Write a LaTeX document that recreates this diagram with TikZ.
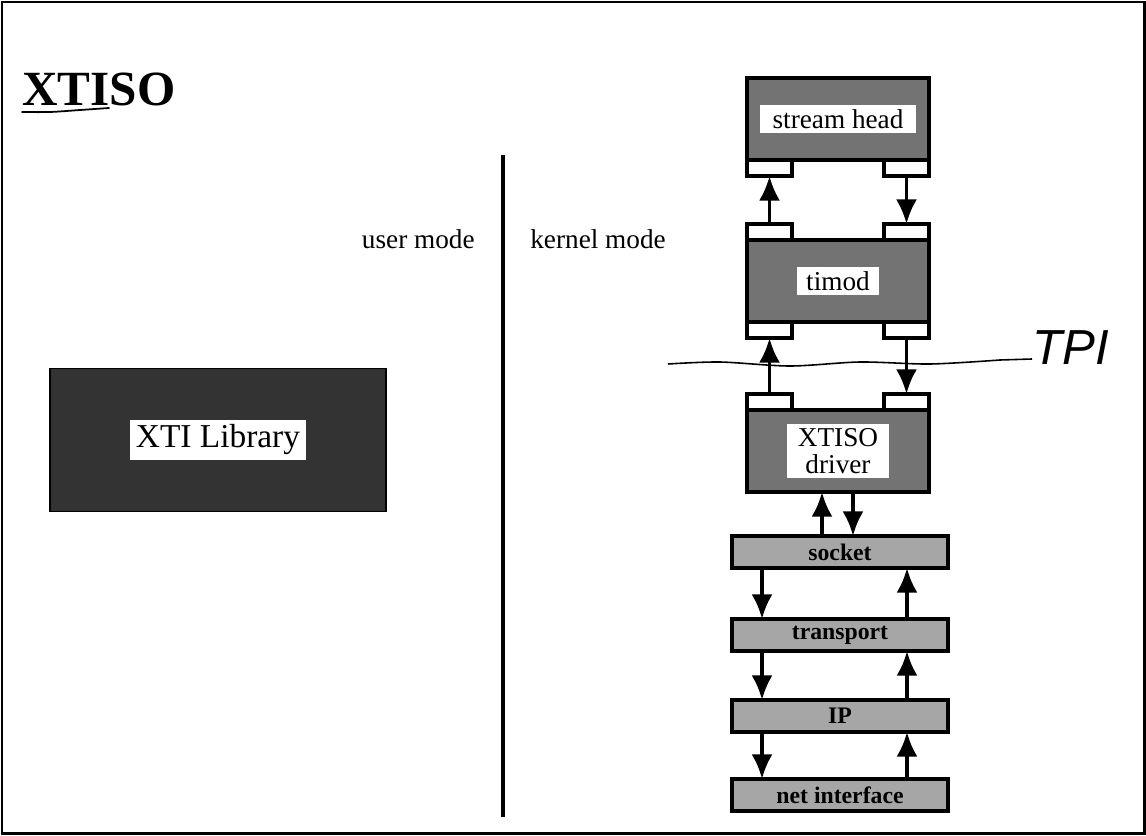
\documentclass[tikz,border=0pt]{standalone}
\usepackage{fontspec}
\setmainfont{Liberation Serif}
\newfontfamily\handfont{Liberation Sans}
\usetikzlibrary{arrows.meta,positioning}

\tikzset{
	module/.style={draw, line width=2pt, fill=black!55, outer sep=0pt,
		minimum width=3.64cm, minimum height=1.64cm},
	modlabel/.style={fill=white, inner xsep=5pt, inner ysep=2.5pt, align=center,
		font=\fontsize{15.5}{17}\selectfont},
	stub/.style={draw, line width=2pt, fill=white, outer sep=0pt,
		minimum width=0.9cm, minimum height=0.32cm},
	layer/.style={draw, line width=2pt, fill=black!35, outer sep=0pt,
		minimum width=4.32cm, minimum height=0.64cm, inner sep=0pt,
		font=\bfseries\fontsize{13.5}{15}\selectfont},
	arr/.style={line width=2.2pt, -{Latex[length=14pt,width=12pt]}},
	modetext/.style={font=\fontsize{15.5}{17}\selectfont}
}

\begin{document}
\begin{tikzpicture}[x=0.02cm, y=-0.02cm]

	\useasboundingbox (0,0) rectangle (1146,835);
	\draw[line width=1.7pt] (2,2) rectangle (1144,833);

	% Title
	\node[anchor=base west, inner sep=0pt, font=\bfseries\fontsize{28}{30}\selectfont] (title) at (22,105) {XTISO};
	\draw[line width=1pt, line cap=round] plot[smooth] coordinates {(22,112) (50,112) (80,110) (109,108)};

	% Divider between user and kernel mode
	\draw[line width=2.3pt] (503,155) -- (503,817);
	\node[modetext, anchor=base east, inner sep=0pt] (user) at (475,248) {user mode};
	\node[modetext, anchor=base west, inner sep=0pt] (kernel) at (530,248) {kernel mode};

	% XTI Library
	\node[draw, line width=1pt, fill=black!80, minimum width=6.72cm, minimum height=2.86cm] (lib) at (218,440) {};
	\node[fill=white, inner xsep=3.5pt, inner ysep=3pt, font=\fontsize{19}{21}\selectfont] (liblab) at (lib) {XTI Library};

	% Stream modules
	\node[module] (sh) at (838,119) {};
	\node[modlabel, inner xsep=7pt] (shlab) at (sh) {stream head};
	\node[module] (tm) at (838,281) {};
	\node[modlabel] (tmlab) at (tm) {timod};
	\node[module] (drv) at (838,451) {};
	\node[modlabel, inner xsep=6pt] (drvlab) at (drv) {XTISO\\[-2pt]driver};

	% Queue stubs
	\node[stub, anchor=north west] (shBL) at (sh.south west) {};
	\node[stub, anchor=north east] (shBR) at (sh.south east) {};
	\node[stub, anchor=south west] (tmTL) at (tm.north west) {};
	\node[stub, anchor=south east] (tmTR) at (tm.north east) {};
	\node[stub, anchor=north west] (tmBL) at (tm.south west) {};
	\node[stub, anchor=north east] (tmBR) at (tm.south east) {};
	\node[stub, anchor=south west] (drvTL) at (drv.north west) {};
	\node[stub, anchor=south east] (drvTR) at (drv.north east) {};

	% TPI mark
	\node[anchor=west, inner sep=0pt, font=\handfont\itshape\fontsize{28}{30}\selectfont] (tpi) at (1032,348) {TPI};
	\draw[line width=0.9pt] plot[smooth] coordinates {(668,364) (720,362) (790,366) (860,362) (930,364) (1000,360)} -- (tpi.west |- 0,359);

	% Arrows between modules
	\draw[arr] (tmTL.north) -- (shBL.south);
	\draw[arr] (shBR.south) -- (tmTR.north);
	\draw[arr] (drvTL.north) -- (tmBL.south);
	\draw[arr] (tmBR.south) -- (drvTR.north);

	% Protocol layers
	\foreach \name/\txt/\y in {sock/socket/552, trans/transport/635, ip/IP/716, net/net interface/795} {
		\node[layer] (\name) at (840,\y) {\txt};
	}

	\draw[arr] ([xshift=-0.36cm]sock.north) -- ([xshift=-0.32cm]drv.south);
	\draw[arr] ([xshift=0.30cm]drv.south) -- ([xshift=0.26cm]sock.north);

	\foreach \a/\b in {sock/trans, trans/ip, ip/net} {
		\draw[arr] ([xshift=-1.56cm]\a.south) -- ([xshift=-1.56cm]\b.north);
		\draw[arr] ([xshift=1.34cm]\b.north) -- ([xshift=1.34cm]\a.south);
	}

\end{tikzpicture}
\end{document}
